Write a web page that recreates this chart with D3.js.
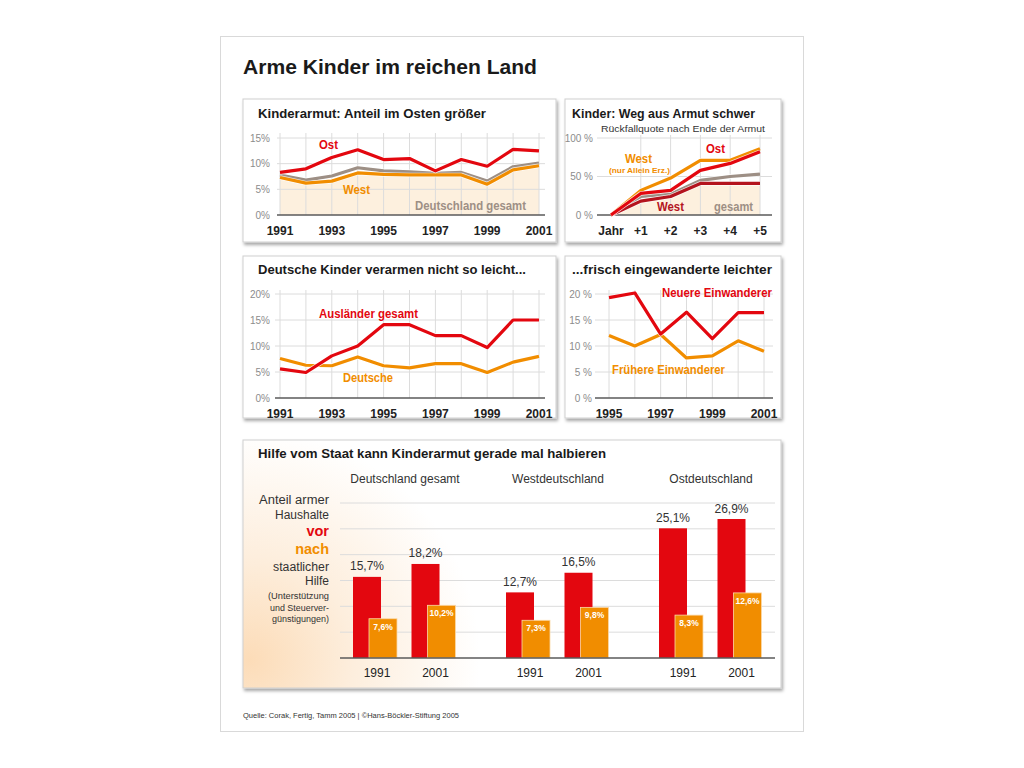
<!DOCTYPE html>
<html><head><meta charset="utf-8">
<script src="https://cdn.jsdelivr.net/npm/d3@7/dist/d3.min.js"></script>
<style>body{margin:0;background:#fff}svg{display:block;font-family:"Liberation Sans",Arial,sans-serif}</style>
</head><body><svg id="c" width="1024" height="768"></svg>
<script>
// ---------- DATA ----------
const years1 = [1991,1992,1993,1994,1995,1996,1997,1998,1999,2000,2001];
const ost1    = [8.3,9.0,11.2,12.7,10.8,11.0,8.6,10.8,9.5,12.8,12.5];
const gesamt1 = [7.8,6.8,7.6,9.2,8.6,8.4,8.1,8.3,6.6,9.4,10.1];
const west1   = [7.3,6.2,6.6,8.2,7.9,7.8,7.8,7.8,6.0,8.8,9.6];
const yTicks1 = [0,5,10,15];
const xTicks1 = [1991,1993,1995,1997,1999,2001];

const steps2 = ["Jahr","+1","+2","+3","+4","+5"];
const westAE2 = [0,32,48,71,71,86];
const ost2    = [0,28,32,58,67,82];
const gesamt2 = [0,24,27,45,50,53];
const west2   = [0,18,24,41,41,41];
const yTicks2 = [0,50,100];

const years3 = [1991,1992,1993,1994,1995,1996,1997,1998,1999,2000,2001];
const auslaender3 = [5.6,4.9,8.1,10.0,14.1,14.1,12.0,12.0,9.7,15.0,15.0];
const deutsche3   = [7.6,6.3,6.2,7.9,6.2,5.8,6.6,6.6,4.9,6.9,8.0];
const yTicks3 = [0,5,10,15,20];

const years4 = [1995,1996,1997,1998,1999,2000,2001];
const neuere4   = [19.3,20.2,12.3,16.5,11.4,16.4,16.4];
const fruehere4 = [12.0,10.0,12.2,7.7,8.1,11.0,9.0];
const xTicks4 = [1995,1997,1999,2001];

const groups5 = ["Deutschland gesamt","Westdeutschland","Ostdeutschland"];
const years5 = ["1991","2001"];
const vor5  = [[15.7,18.2],[12.7,16.5],[25.1,26.9]];
const nach5 = [[7.6,10.2],[7.3,9.8],[8.3,12.6]];
const grid5 = [5,10,15,20,25,30];

// ---------- STYLE ----------
const RED="#e3070f", ORANGE="#f18d00", GRAY="#9d8f85", DARKRED="#b4141e", FILL="#fdf0de", TXT="#1a1a1a";
const svg = d3.select("#c");
const defs = svg.append("defs");
const f = defs.append("filter").attr("id","sh").attr("x","-5%").attr("y","-5%").attr("width","110%").attr("height","115%");
f.append("feDropShadow").attr("dx",1.5).attr("dy",2.5).attr("stdDeviation",1.5).attr("flood-color","#000").attr("flood-opacity",0.35);
const rg = defs.append("radialGradient").attr("id","peach").attr("gradientUnits","userSpaceOnUse")
  .attr("cx",250).attr("cy",660).attr("r",230);
rg.append("stop").attr("offset","0").attr("stop-color","#fcdcb8");
rg.append("stop").attr("offset","0.45").attr("stop-color","#fdeedd");
rg.append("stop").attr("offset","1").attr("stop-color","#ffffff");

// outer frame
svg.append("rect").attr("x",220.5).attr("y",36.5).attr("width",583).attr("height",695).attr("fill","#fff").attr("stroke","#d9d9d9");
svg.append("text").attr("x",243).attr("y",74).attr("font-size",20).attr("font-weight","bold").attr("fill",TXT)
  .attr("textLength",294).attr("lengthAdjust","spacingAndGlyphs").text("Arme Kinder im reichen Land");

function panel(x,y,w,h,fill){
  svg.append("rect").attr("x",x).attr("y",y).attr("width",w).attr("height",h).attr("fill",fill||"#fff")
    .attr("stroke","#cfcfcf").attr("stroke-width",1).attr("filter","url(#sh)");
}
function txt(x,y,s,o){
  const t = svg.append("text").attr("x",x).attr("y",y).text(s)
    .attr("font-size",o.size||12).attr("fill",o.fill||TXT).attr("font-weight",o.bold?"bold":"normal")
    .attr("text-anchor",o.anchor||"start");
  if(o.len) t.attr("textLength",o.len).attr("lengthAdjust","spacingAndGlyphs");
  return t;
}
function yAxisGrid(g, y, ticks, x0, x1, fmt, labelX){
  ticks.forEach(t=>{
    if(t===0) return;
    g.append("line").attr("x1",x0).attr("x2",x1).attr("y1",y(t)).attr("y2",y(t)).attr("stroke","#dcdcdc").attr("stroke-width",1);
  });
  ticks.forEach(t=>{
    g.append("text").attr("x",labelX).attr("y",y(t)+3.5).attr("text-anchor","end").attr("font-size",10)
      .attr("fill","#8c8c8c").text(fmt(t));
  });
}
function vgrid(g, xs, top, bottom){
  xs.forEach(xv=>g.append("line").attr("x1",xv).attr("x2",xv).attr("y1",top).attr("y2",bottom).attr("stroke","#dcdcdc"));
}
function baseline(g,x0,x1,yv){
  g.append("line").attr("x1",x0).attr("x2",x1).attr("y1",yv).attr("y2",yv).attr("stroke","#5a5a5a").attr("stroke-width",1.5);
}
function drawLine(g, xs, vals, x, y, color, w){
  const line = d3.line().x((d,i)=>x(xs[i])).y(d=>y(d));
  g.append("path").attr("d",line(vals)).attr("fill","none").attr("stroke","#fff").attr("stroke-width",(w||3.2)+1.4)
    .attr("stroke-linejoin","round").attr("stroke-opacity",0.8);
  g.append("path").attr("d",line(vals)).attr("fill","none").attr("stroke",color).attr("stroke-width",w||3.2)
    .attr("stroke-linejoin","round").attr("stroke-linecap","butt");
}
function drawArea(g, xs, vals, x, y, y0){
  const area = d3.area().x((d,i)=>x(xs[i])).y0(y(y0)).y1(d=>y(d));
  g.append("path").attr("d",area(vals)).attr("fill",FILL);
}

// ---------- PANEL 1 ----------
panel(243,99,313,143);
{
  const g = svg.append("g");
  const x = d3.scaleLinear().domain([1991,2001]).range([280,539]);
  const y = d3.scaleLinear().domain([0,15]).range([215,138]);
  drawArea(g, years1, west1, x, y, 0);
  vgrid(g, years1.map(x), 133, 215);
  yAxisGrid(g, y, yTicks1, 277, 545, d=>d+"%", 270);
  baseline(g,277,545,y(0));
  drawLine(g, years1, gesamt1, x, y, GRAY);
  drawLine(g, years1, west1, x, y, ORANGE);
  drawLine(g, years1, ost1, x, y, RED);
  xTicks1.forEach(t=>txt(x(t),235,String(t),{size:12,bold:true,anchor:"middle",fill:"#222"}));
  txt(258,118,"Kinderarmut: Anteil im Osten größer",{size:13,bold:true,len:228});
  txt(319,149,"Ost",{size:12.5,bold:true,fill:RED,len:19});
  txt(343,194,"West",{size:12.5,bold:true,fill:ORANGE,len:27});
  txt(415,210,"Deutschland gesamt",{size:12.5,bold:true,fill:GRAY,len:111});
}

// ---------- PANEL 2 ----------
panel(565,99,216,143);
{
  const g = svg.append("g");
  const x = d3.scalePoint().domain(steps2).range([611,760]);
  const y = d3.scaleLinear().domain([0,100]).range([215,138]);
  drawArea(g, steps2, west2, x, y, 0);
  vgrid(g, steps2.slice(1).map(x), 135, 215);
  yAxisGrid(g, y, yTicks2, 597, 772, d=>d+" %", 593);
  baseline(g,597,772,y(0));
  drawLine(g, steps2, gesamt2, x, y, GRAY);
  drawLine(g, steps2, west2, x, y, DARKRED);
  drawLine(g, steps2, westAE2, x, y, ORANGE);
  drawLine(g, steps2, ost2, x, y, RED);
  steps2.forEach(t=>txt(x(t),235,t,{size:12,bold:true,anchor:"middle",fill:"#222"}));
  txt(572,118,"Kinder: Weg aus Armut schwer",{size:13,bold:true,len:183});
  txt(601,131.5,"Rückfallquote nach Ende der Armut",{size:9.5,fill:"#333",len:164});
  txt(625,163,"West",{size:12.5,bold:true,fill:ORANGE,len:27});
  txt(609,172.5,"(nur Allein Erz.)",{size:8,bold:true,fill:ORANGE,len:61});
  txt(706,153,"Ost",{size:12.5,bold:true,fill:RED,len:19});
  txt(657,211,"West",{size:12.5,bold:true,fill:DARKRED,len:27});
  txt(714,211,"gesamt",{size:12.5,bold:true,fill:GRAY,len:39});
}

// ---------- PANEL 3 ----------
panel(243,256,313,162);
{
  const g = svg.append("g");
  const x = d3.scaleLinear().domain([1991,2001]).range([280,539]);
  const y = d3.scaleLinear().domain([0,20]).range([398,294]);
  vgrid(g, years3.map(x), 290, 398);
  yAxisGrid(g, y, yTicks3, 275, 545, d=>d+"%", 270);
  baseline(g,275,545,y(0));
  drawLine(g, years3, deutsche3, x, y, ORANGE);
  drawLine(g, years3, auslaender3, x, y, RED);
  xTicks1.forEach(t=>txt(x(t),417.5,String(t),{size:12,bold:true,anchor:"middle",fill:"#222"}));
  txt(258,273.5,"Deutsche Kinder verarmen nicht so leicht...",{size:13,bold:true,len:268});
  txt(319,317.5,"Ausländer gesamt",{size:12.5,bold:true,fill:RED,len:99});
  txt(343,382,"Deutsche",{size:12.5,bold:true,fill:ORANGE,len:50});
}

// ---------- PANEL 4 ----------
panel(565,256,216,162);
{
  const g = svg.append("g");
  const x = d3.scaleLinear().domain([1995,2001]).range([609,764]);
  const y = d3.scaleLinear().domain([0,20]).range([398,294]);
  vgrid(g, years4.map(x), 290, 398);
  yAxisGrid(g, y, yTicks3, 595, 773, d=>d+" %", 592);
  baseline(g,595,773,y(0));
  drawLine(g, years4, fruehere4, x, y, ORANGE);
  drawLine(g, years4, neuere4, x, y, RED);
  xTicks4.forEach(t=>txt(x(t),417.5,String(t),{size:12,bold:true,anchor:"middle",fill:"#222"}));
  txt(572,273.5,"...frisch eingewanderte leichter",{size:13,bold:true,len:200});
  txt(662,297,"Neuere Einwanderer",{size:12.5,bold:true,fill:RED,len:110});
  txt(612,373.5,"Frühere Einwanderer",{size:12.5,bold:true,fill:ORANGE,len:113});
}

// ---------- PANEL 5 ----------
panel(243,440,538,248,"url(#peach)");
{
  const g = svg.append("g");
  const y = d3.scaleLinear().domain([0,30]).range([658,503]);
  const outer = d3.scaleBand().domain(groups5).range([338,797]);
  const inner = d3.scalePoint().domain(years5).range([15,73.5]);
  const bw = 28, off = 16;
  grid5.forEach(t=>g.append("line").attr("x1",340).attr("x2",775).attr("y1",y(t)).attr("y2",y(t)).attr("stroke","#dcdcdc"));
  groups5.forEach((gr,gi)=>{
    txt(outer(gr)+67, 483, gr, {size:12, fill:"#333", anchor:"middle"});
    years5.forEach((yr,yi)=>{
      const rx = outer(gr)+inner(yr);
      const v = vor5[gi][yi], n = nach5[gi][yi];
      g.append("rect").attr("x",rx).attr("y",y(v)).attr("width",bw).attr("height",y(0)-y(v)).attr("fill",RED);
      g.append("rect").attr("x",rx+off).attr("y",y(n)).attr("width",bw).attr("height",y(0)-y(n)).attr("fill",ORANGE)
        .attr("stroke","#fbd9a8").attr("stroke-width",0.8);
      txt(rx+bw/2, y(v)-6.5, String(v).replace(".",",")+"%", {size:12, fill:"#333", anchor:"middle"});
      txt(rx+off+bw/2, y(n)+11, String(n).replace(".",",")+"%", {size:8.5, bold:true, fill:"#fff", anchor:"middle"});
      txt(rx+24, 676.5, yr, {size:12, fill:"#222", anchor:"middle"});
    });
  });
  baseline(g,340,775,y(0));
  txt(258,458,"Hilfe vom Staat kann Kinderarmut gerade mal halbieren",{size:13,bold:true,len:348});
  const L = 329;
  txt(L,504,"Anteil armer",{size:12,fill:"#333",anchor:"end",len:70});
  txt(L,518.5,"Haushalte",{size:12,fill:"#333",anchor:"end",len:54});
  txt(L,536,"vor",{size:14.5,bold:true,fill:RED,anchor:"end"});
  txt(L,553.5,"nach",{size:14.5,bold:true,fill:ORANGE,anchor:"end"});
  txt(L,571,"staatlicher",{size:12,fill:"#333",anchor:"end",len:56});
  txt(L,585,"Hilfe",{size:12,fill:"#333",anchor:"end"});
  txt(L,599,"(Unterstützung",{size:8.5,fill:"#333",anchor:"end",len:61});
  txt(L,610.5,"und Steuerver-",{size:8.5,fill:"#333",anchor:"end",len:59});
  txt(L,621.5,"günstigungen)",{size:8.5,fill:"#333",anchor:"end",len:57});
}

txt(243,718,"Quelle: Corak, Fertig, Tamm 2005 | ©Hans-Böckler-Stiftung 2005",{size:8,fill:"#333",len:216});
</script></body></html>
